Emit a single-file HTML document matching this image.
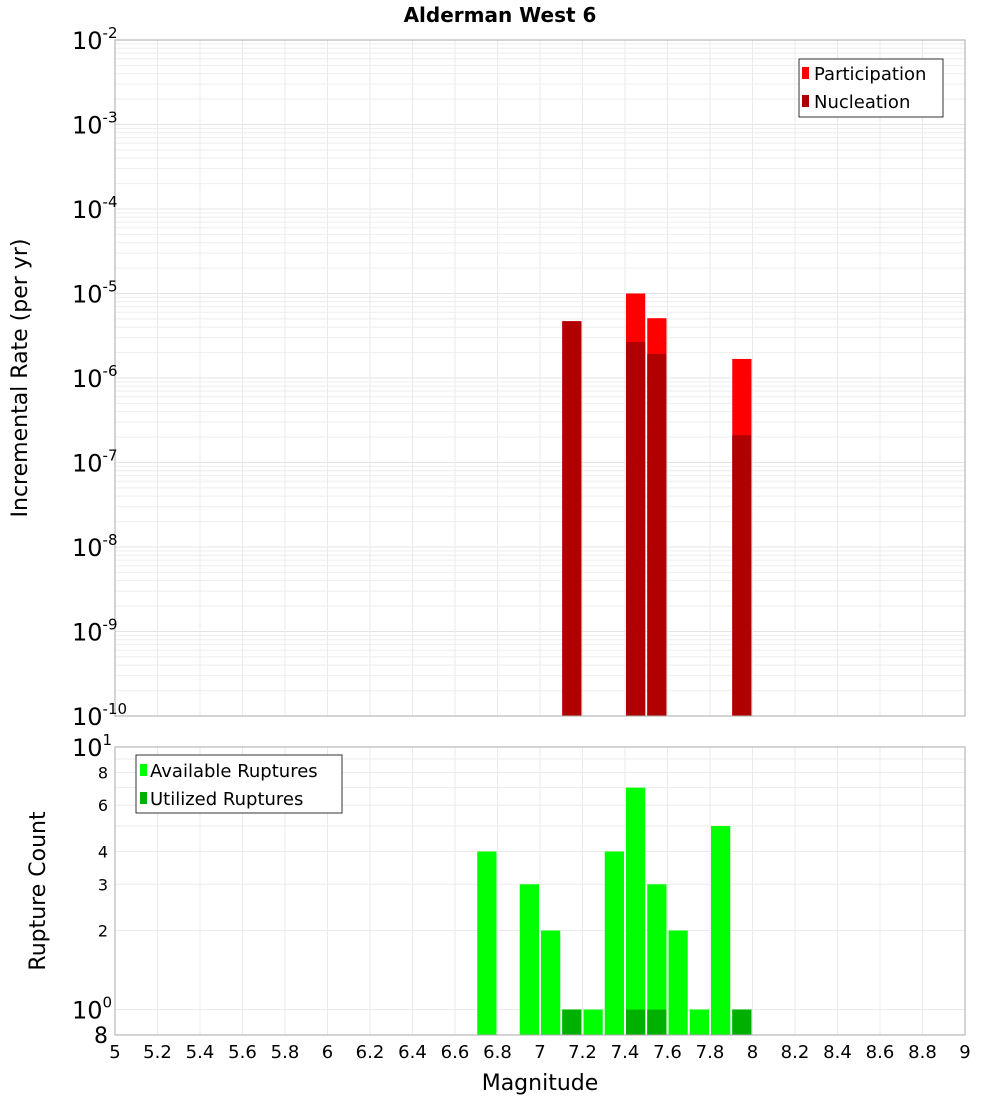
<!DOCTYPE html>
<html><head><meta charset="utf-8"><style>
body{margin:0;background:#fff;}
svg text{font-family:"DejaVu Sans","Liberation Sans",sans-serif;}
</style></head><body>
<svg id="chart" width="1000" height="1100" xmlns="http://www.w3.org/2000/svg">
<text x="500" y="22" text-anchor="middle" font-size="20" font-weight="bold">Alderman West 6</text>
<g id="topPlot"></g>
<g id="botPlot"></g>
<text transform="translate(27,378) rotate(-90)" text-anchor="middle" font-size="22">Incremental Rate (per yr)</text>
<text transform="translate(45,891) rotate(-90)" text-anchor="middle" font-size="22">Rupture Count</text>
<text x="540" y="1090" text-anchor="middle" font-size="22">Magnitude</text>
<g>
<rect x="799" y="59" width="144" height="58" fill="#fff" stroke="#333"/>
<rect x="802" y="67" width="7" height="12" fill="#ff0000"/>
<text x="814" y="80" font-size="18">Participation</text>
<rect x="802" y="95" width="7" height="12" fill="#b00000"/>
<text x="814" y="108" font-size="18">Nucleation</text>
</g>
<g>
<rect x="136" y="755" width="206" height="58" fill="#fff" stroke="#333"/>
<rect x="140" y="764" width="7" height="12" fill="#00ff00"/>
<text x="150" y="777" font-size="18">Available Ruptures</text>
<rect x="140" y="792" width="7" height="12" fill="#00b000"/>
<text x="150" y="805" font-size="18">Utilized Ruptures</text>
</g>
</svg>
<script>
const rateMags = [7.15, 7.45, 7.55, 7.95];
const participation = [4.7e-6, 1.0e-5, 5.1e-6, 1.68e-6];
const nucleation = [4.7e-6, 2.67e-6, 1.92e-6, 2.1e-7];
const countMags = [6.75, 6.95, 7.05, 7.15, 7.25, 7.35, 7.45, 7.55, 7.65, 7.75, 7.85, 7.95];
const available = [4, 3, 2, 1, 1, 4, 7, 3, 2, 1, 5, 1];
const utilizedMags = [7.15, 7.45, 7.55, 7.95];
const utilized = [1, 1, 1, 1];
const xTicks = [5,5.2,5.4,5.6,5.8,6,6.2,6.4,6.6,6.8,7,7.2,7.4,7.6,7.8,8,8.2,8.4,8.6,8.8,9];
const rateExps = [-2,-3,-4,-5,-6,-7,-8,-9,-10];
const countTicks = [2,3,4,6,8];

const NS="http://www.w3.org/2000/svg";
const X0=115,X1=965,T0=40,T1=716,B0=747,B1=1035;
const xs=m=>X0+(m-5)/4*(X1-X0);
const yTop=v=>T0+(-2-Math.log10(v))/8*(T1-T0);
const yBot=v=>B1-(Math.log10(v)-Math.log10(0.8))/(1-Math.log10(0.8))*(B1-B0);
const binW=0.1*(X1-X0)/4;
function mk(p,tag,a){const e=document.createElementNS(NS,tag);for(const k in a)e.setAttribute(k,a[k]);p.appendChild(e);return e;}
const topG=document.getElementById('topPlot'),botG=document.getElementById('botPlot'),svgEl=document.getElementById('chart');

for(let d=-10;d<-2;d++){for(let k=1;k<10;k++){const y=yTop(k*Math.pow(10,d));const g=mk(topG,'line',{x1:X0,x2:X1,y1:y,y2:y,stroke:k==1?'#e4e4e4':'#eeeeee','stroke-width':1});
 
 }}
xTicks.forEach(t=>{const x=xs(t);const g=mk(topG,'line',{x1:x,x2:x,y1:T0,y2:T1,stroke:'#ebebeb'});
 
 
 const g2=mk(botG,'line',{x1:x,x2:x,y1:B0,y2:B1,stroke:'#ebebeb'});
 
 });
[1,2,3,4,5,6,7,8,9,10].forEach(v=>{const y=yBot(v);const g=mk(botG,'line',{x1:X0,x2:X1,y1:y,y2:y,stroke:'#ebebeb'});
 
 });

rateMags.forEach((m,i)=>{const x=xs(m)-binW/2+1,w=binW-2;
 let r=mk(topG,'rect',{x:x,y:yTop(participation[i]),width:w,height:T1-yTop(participation[i]),fill:'#ff0000'});
 
 
 r=mk(topG,'rect',{x:x,y:yTop(nucleation[i]),width:w,height:T1-yTop(nucleation[i]),fill:'#b00000'});
 
 });
countMags.forEach((m,i)=>{const r=mk(botG,'rect',{x:xs(m)-binW/2+1,y:yBot(available[i]),width:binW-2,height:B1-yBot(available[i]),fill:'#00ff00'});
 
 });
utilizedMags.forEach((m,i)=>{const r=mk(botG,'rect',{x:xs(m)-binW/2+1,y:yBot(utilized[i]),width:binW-2,height:B1-yBot(utilized[i]),fill:'#00b000'});
 
 });

mk(topG,'rect',{x:X0,y:T0,width:X1-X0,height:T1-T0,fill:'none',stroke:'#aaa'});
mk(botG,'rect',{x:X0,y:B0,width:X1-X0,height:B1-B0,fill:'none',stroke:'#aaa'});

rateExps.forEach(e=>{const y=yTop(Math.pow(10,e));const t=mk(svgEl,'text',{x:72,y:y+9,'font-size':24});
 
 
 t.textContent='10';const s=mk(t,'tspan',{dy:-11,'font-size':15});s.textContent=String(e);});
countTicks.forEach(v=>{const t=mk(svgEl,'text',{x:108,y:yBot(v)+6,'text-anchor':'end','font-size':16});
 
 
 t.textContent=v;});
[[1,'0'],[10,'1']].forEach(([v,e])=>{const t=mk(svgEl,'text',{x:72,y:yBot(v)+9,'font-size':24});
 
 
 t.textContent='10';const s=mk(t,'tspan',{dy:-11,'font-size':15});s.textContent=e;});
{const t=mk(svgEl,'text',{x:108,y:1043,'text-anchor':'end','font-size':22});
 
 
 t.textContent='8';}
xTicks.forEach(v=>{const t=mk(svgEl,'text',{x:xs(v),y:1058,'text-anchor':'middle','font-size':18});
 
 
 t.textContent=String(Math.round(v*10)/10);});
</script>
</body></html>
